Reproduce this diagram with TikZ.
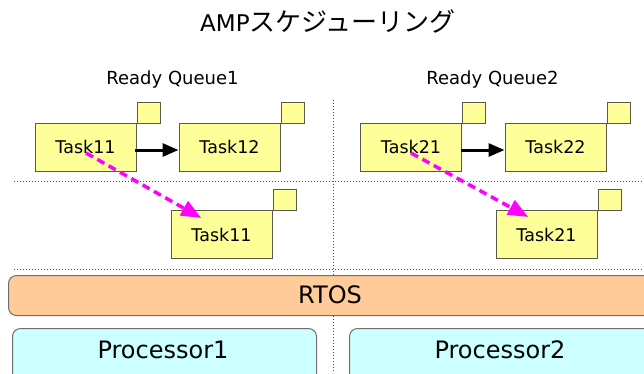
\documentclass[tikz,border=0pt]{standalone}
\usepackage{fontspec}
\setmainfont{DejaVu Sans}
\newfontfamily\cjk{Noto Sans CJK JP}
\usetikzlibrary{arrows.meta,calc}

\definecolor{taskfill}{HTML}{FFFF99}
\definecolor{taskline}{HTML}{5A5A48}
\definecolor{osfill}{HTML}{FFCC99}
\definecolor{cpufill}{HTML}{CCFFFF}
\definecolor{boxline}{HTML}{6E6E6E}
\definecolor{migrate}{HTML}{FF00FF}
\definecolor{sepline}{HTML}{505050}

\tikzset{
  taskbox/.style={draw=taskline, line width=1pt, fill=taskfill, minimum width=101pt,
    minimum height=48pt, inner sep=0pt, font=\fontsize{17.5}{20}\selectfont},
  tagbox/.style={draw=taskline, line width=1pt, fill=taskfill, minimum width=23pt,
    minimum height=21pt, inner sep=0pt, anchor=south west},
  layerbox/.style={draw=boxline, line width=1pt, rounded corners=8pt, inner sep=0pt},
  bigtext/.style={font=\fontsize{24}{28}\selectfont},
  sep/.style={draw=sepline, line width=1pt, dash pattern=on 1pt off 2pt},
  queuearrow/.style={line width=3pt, -{Triangle[length=16pt,width=13pt]}},
  movearrow/.style={draw=migrate, line width=3.5pt, dash pattern=on 8pt off 5pt,
    -{Triangle[length=20pt,width=16pt,sep=0pt]}, shorten >=-2pt},
}

\begin{document}
\begin{tikzpicture}[x=1pt,y=-1pt]
\clip (0,0) rectangle (644,373);
\fill[white] (0,0) rectangle (644,373);

% separators
\draw[sep] (333,100) -- (333,373);
\draw[sep] (14,181) -- (644,181);
\draw[sep] (14,269) -- (644,269);

% title and queue labels
\node (title) at (328,21) {\fontsize{23}{28}\selectfont AMP\cjk\fontsize{26}{30}\selectfont スケジューリング};
\node[font=\fontsize{18}{20}\selectfont] (q1) at (172.5,80) {Ready Queue1};
\node[font=\fontsize{18}{20}\selectfont] (q2) at (492.5,80) {Ready Queue2};

% ready queue 1
\node[taskbox] (t11) at (85.5,147) {Task11};
\node[tagbox] (t11q) at ($(t11.north east)+(0,1)$) {};
\node[taskbox] (t12) at (229.5,147) {Task12};
\node[tagbox] (t12q) at ($(t12.north east)+(0,1)$) {};
\node[taskbox] (b11) at (221.5,234.5) {Task11};
\node[tagbox] (b11q) at ($(b11.north east)+(0,1)$) {};

% ready queue 2
\node[taskbox] (t21) at (411,147) {Task21};
\node[tagbox] (t21q) at ($(t21.north east)+(0,1)$) {};
\node[taskbox] (t22) at (555.5,147) {Task22};
\node[tagbox] (t22q) at ($(t22.north east)+(0,1)$) {};
\node[taskbox] (b21) at (546.5,234.5) {Task21};
\node[tagbox] (b21q) at ($(b21.north east)+(0,1)$) {};

% queue order
\draw[queuearrow] ($(t11.east)+(-2,3)$) -- ($(t12.west)+(0,3)$);
\draw[queuearrow] ($(t21.east)+(-1,3)$) -- ($(t22.west)+(0,3)$);

% task migration
\draw[movearrow] ($(t11.center)+(0.5,6)$) -- ($(b11.north west)+(29,7)$);
\draw[movearrow] ($(t21.center)+(0,6)$) -- ($(b21.north west)+(31,6)$);

% RTOS and processors
\node[layerbox, fill=osfill, minimum width=660pt, minimum height=40pt, anchor=north west,
  bigtext] (rtos) at (8,275) {};
\node[bigtext] (rtosl) at (330,295) {RTOS};
\node[layerbox, fill=cpufill, minimum width=304pt, minimum height=60pt, anchor=north west]
  (p1) at (12,328) {};
\node[bigtext] (p1l) at (163,350) {Processor1};
\node[layerbox, fill=cpufill, minimum width=320pt, minimum height=60pt, anchor=north west]
  (p2) at (349,328) {};
\node[bigtext] (p2l) at (500,350) {Processor2};
\end{tikzpicture}
\end{document}
